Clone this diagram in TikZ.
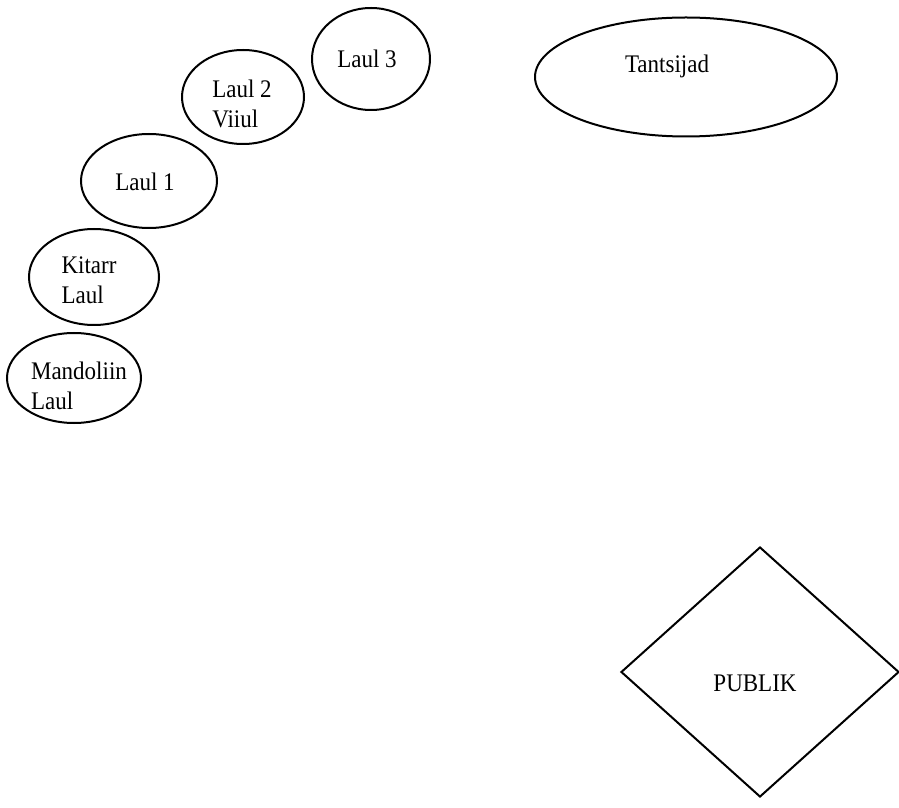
\documentclass[tikz,border=0pt]{standalone}
\usepackage{fontspec}
\setmainfont{Liberation Serif}
\usetikzlibrary{shapes.geometric}

\begin{document}
\begin{tikzpicture}[x=1pt,y=1pt,line width=2pt,
    spot/.style={ellipse,draw,inner sep=0pt},
    word/.style={inner sep=0pt,align=left,yscale=1.1,font=\fontsize{23}{27}\selectfont}]

  \useasboundingbox (0,0) rectangle (899,807);

  % musicians
  \node[spot,minimum width=118,minimum height=102] (laul3) at (371,748) {};
  \node[spot,minimum width=122,minimum height=94] (laul2) at (243,710) {};
  \node[spot,minimum width=136,minimum height=94] (laul1) at (149,626) {};
  \node[spot,minimum width=130,minimum height=96] (kitarr) at (94,530) {};
  \node[spot,minimum width=134,minimum height=90] (mandoliin) at (74,429) {};

  \node[word] (laul3txt) at (367,748) {Laul 3};
  \node[word] (laul2txt) at (242,703) {Laul 2\\Viiul};
  \node[word] (laul1txt) at (145,625) {Laul 1};
  \node[word] (kitarrtxt) at (89,527) {Kitarr\\Laul};
  \node[word] (mandoliintxt) at (79,421) {Mandoliin\\Laul};

  % dancers and audience
  \node[spot,minimum width=302,minimum height=119] (tantsijad) at (686,730) {};
  \node[word] (tantsijadtxt) at (667,741) {Tantsijad};

  \node[diamond,draw,inner sep=0pt,minimum width=278,minimum height=250] (publik) at (760,135) {};
  \node[word] (publiktxt) at (755,124) {PUBLIK};

\end{tikzpicture}
\end{document}
